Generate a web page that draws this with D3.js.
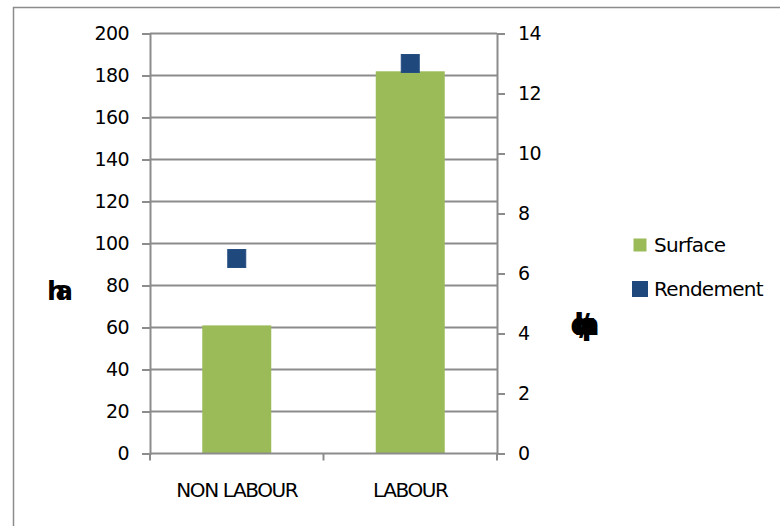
<!DOCTYPE html>
<html><head><meta charset="utf-8">
<script src="https://cdn.jsdelivr.net/npm/d3@7"></script>
<style>body{margin:0;background:#fff}svg{display:block;font-family:"DejaVu Sans",sans-serif}</style>
</head><body>
<script>
const categories = ["NON LABOUR", "LABOUR"];
const surface = [61, 182];
const rendement = [6.5, 13];
const leftTicks = [0,20,40,60,80,100,120,140,160,180,200];
const rightTicks = [0,2,4,6,8,10,12,14];
const seriesNames = ["Surface", "Rendement"];
const leftTitle = "ha";
const rightTitle = "qx/ha";

const W = 780, H = 526;
const svg = d3.select("body").append("svg").attr("width", W).attr("height", H);
svg.append("rect").attr("x",13.5).attr("y",7.5).attr("width",W).attr("height",H)
  .attr("fill","#fff").attr("stroke","#8c8c8c").attr("stroke-width",1.5);

const L = 150, R = 497, T = 33.5, B = 453.5;
const xb = d3.scaleBand().domain(categories).range([L,R]);
const yL = d3.scaleLinear().domain([0,200]).range([B,T]);
const yR = d3.scaleLinear().domain([0,14]).range([B,T]);
const grey = "#8c8c8c";

svg.append("g").selectAll("line").data(leftTicks.slice(1)).join("line")
  .attr("x1",L).attr("x2",R).attr("y1",d=>yL(d)).attr("y2",d=>yL(d))
  .attr("stroke",grey).attr("stroke-width",2);

const bw = 69;
svg.append("g").selectAll("rect").data(categories).join("rect")
  .attr("x",d=>xb(d)+xb.bandwidth()/2-bw/2).attr("width",bw)
  .attr("y",(d,i)=>yL(surface[i])).attr("height",(d,i)=>B-yL(surface[i]))
  .attr("fill","#9bbb59");

const gl = svg.append("g").attr("transform",`translate(${L},0)`)
  .call(d3.axisLeft(yL).tickValues(leftTicks).tickSize(8).tickPadding(13));
const gr = svg.append("g").attr("transform",`translate(${R},0)`)
  .call(d3.axisRight(yR).tickValues(rightTicks).tickSize(8).tickPadding(13));
const gb = svg.append("g").attr("transform",`translate(0,${B})`)
  .call(d3.axisBottom(xb).tickSize(0).tickPadding(29));
svg.append("g").selectAll("line").data([L,(L+R)/2,R]).join("line")
  .attr("x1",d=>d).attr("x2",d=>d).attr("y1",B).attr("y2",B+7)
  .attr("stroke",grey).attr("stroke-width",2);

[gl,gr,gb].forEach(g=>{
  g.selectAll(".domain").attr("stroke",grey).attr("stroke-width",2);
  g.selectAll(".tick line").attr("stroke",grey).attr("stroke-width",2);
  g.selectAll("text").attr("fill","#000").style("font-family","DejaVu Sans").style("font-size","19px").attr("letter-spacing","-0.6px");
});
gb.selectAll("text").style("font-size","20px").attr("letter-spacing","-1.4px");
gb.selectAll(".domain").attr("d",`M${L},0H${R}`);

const ms = 18;
svg.append("g").selectAll("rect").data(categories).join("rect")
  .attr("x",d=>xb(d)+xb.bandwidth()/2-ms/2).attr("width",ms)
  .attr("y",(d,i)=>yR(rendement[i])-ms/2).attr("height",ms)
  .attr("fill","#1f497d").attr("stroke","#254e82");

svg.append("text").attr("x",55).attr("y",300).attr("text-anchor","middle")
  .style("font-size","26px").style("font-weight","900").attr("letter-spacing","-10px")
  .text(leftTitle);
svg.append("text").attr("x",577).attr("y",335).attr("text-anchor","middle")
  .style("font-size","30px").style("font-weight","900").attr("letter-spacing","-16px")
  .text(rightTitle);

const leg = svg.append("g");
const legColors = ["#9bbb59","#1f497d"];
const legY = [245, 289];
seriesNames.forEach((n,i)=>{
  const s = i===0?13:16;
  leg.append("rect").attr("x",640-s/2).attr("y",legY[i]-s/2).attr("width",s).attr("height",s).attr("fill",legColors[i]);
  leg.append("text").attr("x",654).attr("y",legY[i]+7).style("font-size","20px").attr("letter-spacing","-0.7px").text(n);
});
</script>
</body></html>
